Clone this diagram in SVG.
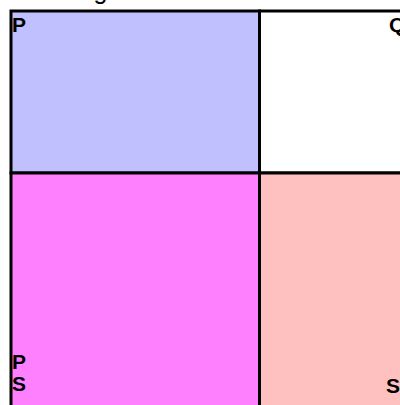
<svg xmlns="http://www.w3.org/2000/svg" width="400" height="405" viewBox="0 0 400 405">
<style>
.lbl{font-family:"Liberation Sans",Arial,sans-serif;font-size:21px;font-weight:bold;fill:#000}
.title{font-family:"Liberation Sans",Arial,sans-serif;font-size:25px;fill:#000}
.cell{stroke:#000;stroke-width:3}
</style>
<rect width="400" height="405" fill="#fff"/>
<text class="title" x="10" y="-1">Planning Grid</text>
<g id="q1"><rect class="cell" x="11" y="11" width="248.5" height="162" fill="#C0C0FF"/><text class="lbl" x="12" y="32">P</text></g>
<g id="q2"><rect class="cell" x="259.5" y="11" width="160" height="162" fill="#FFFFFF"/><text class="lbl" x="389" y="32">Q</text></g>
<g id="q3"><rect class="cell" x="11" y="173" width="248.5" height="250" fill="#FF80FF"/><text class="lbl" x="12" y="369">P</text><text class="lbl" x="12" y="391">S</text></g>
<g id="q4"><rect class="cell" x="259.5" y="173" width="160" height="250" fill="#FFC0C0"/><text class="lbl" x="386" y="393">S</text></g>
<g id="connectors"></g>
</svg>
